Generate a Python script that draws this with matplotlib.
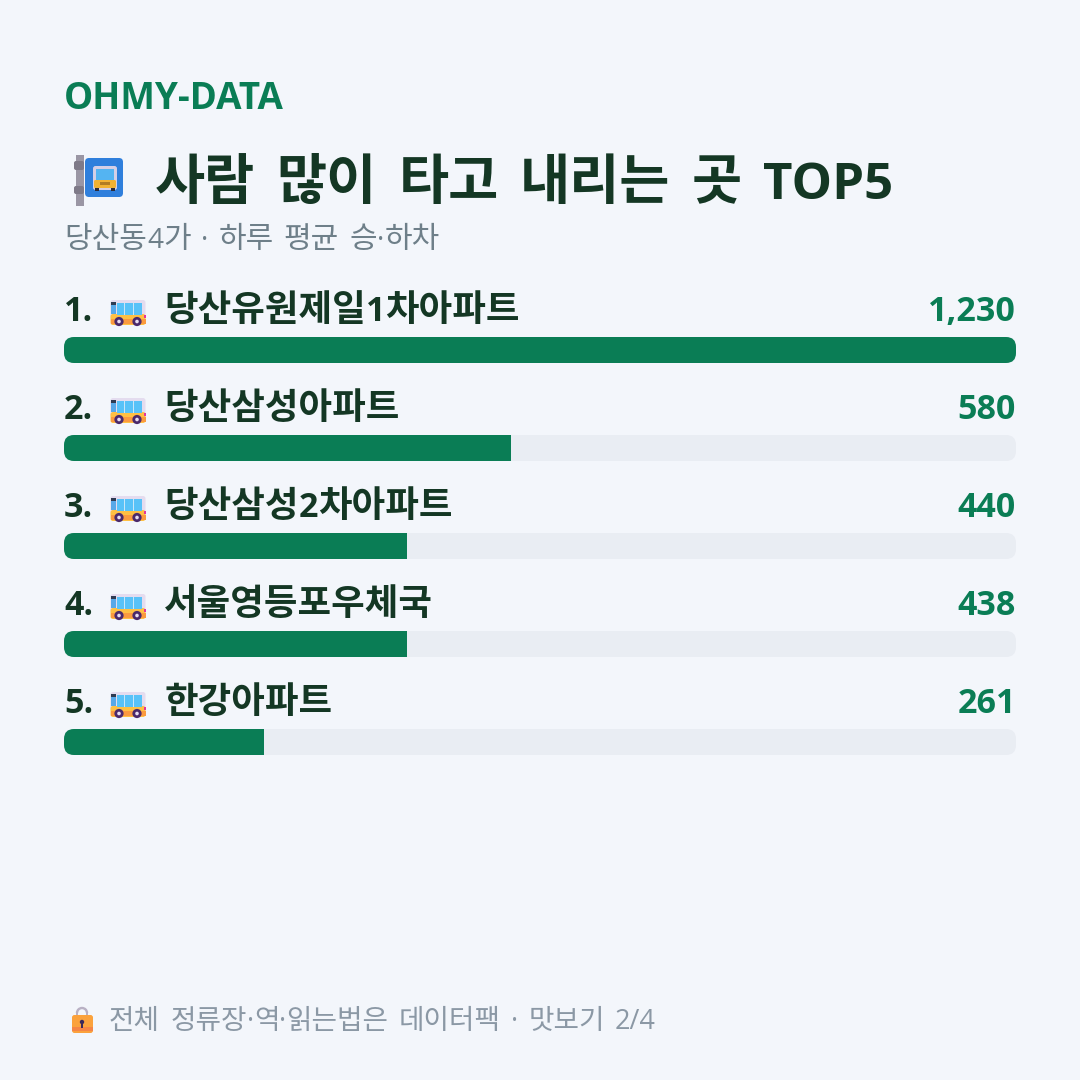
import re
import matplotlib
matplotlib.use("Agg")
import matplotlib.pyplot as plt
from matplotlib.patches import FancyBboxPatch, Rectangle, Circle, Wedge

plt.rcParams['font.family'] = ['Open Sans', 'Noto Sans CJK KR', 'DejaVu Sans']

brand = "OHMY-DATA"
title = "사람 많이 타고 내리는 곳 TOP5"
subtitle = "당산동4가 · 하루 평균 승·하차"
footer = "전체 정류장·역·읽는법은 데이터팩 · 맛보기 2/4"
stops = ["당산유원제일1차아파트", "당산삼성아파트", "당산삼성2차아파트", "서울영등포우체국", "한강아파트"]
riders = [1230, 580, 440, 438, 261]

BG = "#F3F6FB"
GREEN = "#0A7D55"
DARK = "#143724"
TRACK = "#E9EDF3"
PX = 0.72  # font px to pt at dpi 100


def rbox(ax, x, y, w, h, r, color, z=3):
    p = FancyBboxPatch((x + r, y + r), w - 2 * r, h - 2 * r, boxstyle=f"round,pad={r},rounding_size={r}",
                       fc=color, ec="none", zorder=z)
    ax.add_patch(p)
    return p


def text_width(ax, s, size, weight):
    t = ax.text(0, 0, s, fontsize=size * PX, fontweight=weight)
    w = t.get_window_extent(fig.canvas.get_renderer()).width
    t.remove()
    return w


def mixed_text(ax, x, y, s, ko_px, lat_px, space_px, color, weight="normal"):
    # hangul and latin runs get their own size, spaces a fixed width
    for run in re.findall(r"[가-힣]+| +|[^가-힣 ]+", s):
        if run[0] == " ":
            x += space_px * len(run)
            continue
        px = ko_px if re.match(r"[가-힣]", run) else lat_px
        ax.text(x, y, run, fontsize=px * PX, fontweight=weight, color=color, va="baseline", ha="left")
        x += text_width(ax, "|" + run + "|", px, weight) - text_width(ax, "||", px, weight)
    return x


def bus_icon(ax, x, y):
    # small side-on bus, x/y is the top left corner
    rbox(ax, x, y, 35, 20, 2.5, "#E4DCEF")
    rbox(ax, x, y + 14, 35, 11, 2.5, "#FFC043")
    ax.add_patch(Rectangle((x, y + 19), 35, 4.5, fc="#FB9A3F", ec="none", zorder=3.1))
    ax.add_patch(Rectangle((x + 6, y + 2.5), 25, 12, fc="#58C2F8", ec="none", zorder=3.2))
    for wx in (13, 22):
        ax.add_patch(Rectangle((x + wx, y + 2.5), 1.2, 12, fc="#C9E6F8", ec="none", zorder=3.3))
    ax.add_patch(Rectangle((x, y + 2), 5, 2.5, fc="#2F3B52", ec="none", zorder=3.2))
    ax.add_patch(Rectangle((x, y + 4.5), 5, 9, fc="#58A8E8", ec="none", zorder=3.2))
    ax.add_patch(Rectangle((x + 33, y + 15), 2, 3, fc="#E5359A", ec="none", zorder=3.2))
    for wx in (8.5, 26.5):
        ax.add_patch(Circle((x + wx, y + 21.5), 4.6, fc="#4B2A6B", ec="none", zorder=3.4))
        ax.add_patch(Circle((x + wx, y + 21.5), 1.8, fc="#E8DDF0", ec="none", zorder=3.5))


def stop_icon(ax):
    # bus stop sign on a pole
    ax.add_patch(Rectangle((76, 155), 8, 51, fc="#9A96A4", ec="none", zorder=3))
    rbox(ax, 74, 161, 10, 9, 2, "#7E7A88", 3.1)
    rbox(ax, 74, 186, 10, 8, 2, "#7E7A88", 3.1)
    rbox(ax, 85, 158, 38, 39, 4, "#2F7FDC", 3.2)
    rbox(ax, 93, 166, 24, 24, 2.5, "#D5CFE6", 3.3)
    ax.add_patch(Rectangle((96, 169), 18, 11, fc="#54B4F2", ec="none", zorder=3.4))
    rbox(ax, 94, 180, 22, 8, 1.5, "#F2B233", 3.4)
    ax.add_patch(Rectangle((100, 182), 10, 3, fc="#B27C22", ec="none", zorder=3.5))
    for wx in (95, 111):
        ax.add_patch(Rectangle((wx, 188), 4, 2.5, fc="#2B2B3A", ec="none", zorder=3.5))


def lock_icon(ax):
    # padlock in front of the footer line
    ax.add_patch(Wedge((82, 1013), 6.2, 180, 360, width=2.4, fc="#B9B1C4", ec="none", zorder=3))
    ax.add_patch(Rectangle((75.8, 1013), 2.4, 4, fc="#B9B1C4", ec="none", zorder=3))
    ax.add_patch(Rectangle((85.8, 1013), 2.4, 4, fc="#B9B1C4", ec="none", zorder=3))
    rbox(ax, 72, 1015, 21, 18, 2.5, "#FBA23C", 3.1)
    ax.add_patch(Rectangle((72, 1027), 21, 4, fc="#F58545", ec="none", zorder=3.2))
    ax.add_patch(Circle((82, 1022), 2.2, fc="#3B2A5A", ec="none", zorder=3.3))
    ax.add_patch(Rectangle((81, 1022), 2, 6, fc="#3B2A5A", ec="none", zorder=3.3))


fig = plt.figure(figsize=(10.8, 10.8), dpi=100, facecolor=BG)
ax = fig.add_axes([0, 0, 1, 1], facecolor=BG)
ax.set_xlim(0, 1080)
ax.set_ylim(1080, 0)
ax.axis("off")

# bar rows share one axes, x runs as percent of the top stop
bar_ax = fig.add_axes([64 / 1080, 0, 952 / 1080, 1], facecolor="none")
bar_ax.set_xlim(0, 100)
bar_ax.set_ylim(1080, 0)
bar_ax.axis("off")

ax.text(64, 109, brand, fontsize=36.7 * PX, fontweight="bold", color=GREEN, va="baseline", ha="left")
stop_icon(ax)
mixed_text(ax, 155, 199, title, 54.5, 51, 21.4, DARK, "bold")
mixed_text(ax, 64, 248, subtitle, 30, 28, 10.3, "#6E7F89")

for i, (name, val) in enumerate(zip(stops, riders)):
    top = 337 + 98 * i
    pct = round(val / max(riders) * 100)
    clip = FancyBboxPatch((64 + 10, top + 10), 952 - 20, 6, boxstyle="round,pad=10,rounding_size=10",
                          fc="none", ec="none", transform=ax.transData)
    ax.add_patch(clip)
    for width, color in ((100, TRACK), (pct, GREEN)):
        bars = bar_ax.barh(top + 13, width, height=26, color=color, zorder=2)
        bars[0].set_clip_path(clip)
    base = top - 16
    ax.text(64, base, f"{i + 1}.", fontsize=34 * PX, fontweight="bold", color=DARK, va="baseline", ha="left")
    bus_icon(ax, 110.5, top - 37)
    mixed_text(ax, 164, base, name, 36.5, 34, 10, DARK, "bold")
    ax.text(1016, base, f"{val:,}", fontsize=34 * PX, fontweight="bold", color=GREEN, va="baseline", ha="right")

lock_icon(ax)
mixed_text(ax, 109, 1029, footer, 27.7, 27, 10.2, "#8B98A5")

fig.savefig("out.png", dpi=100, facecolor=BG)
